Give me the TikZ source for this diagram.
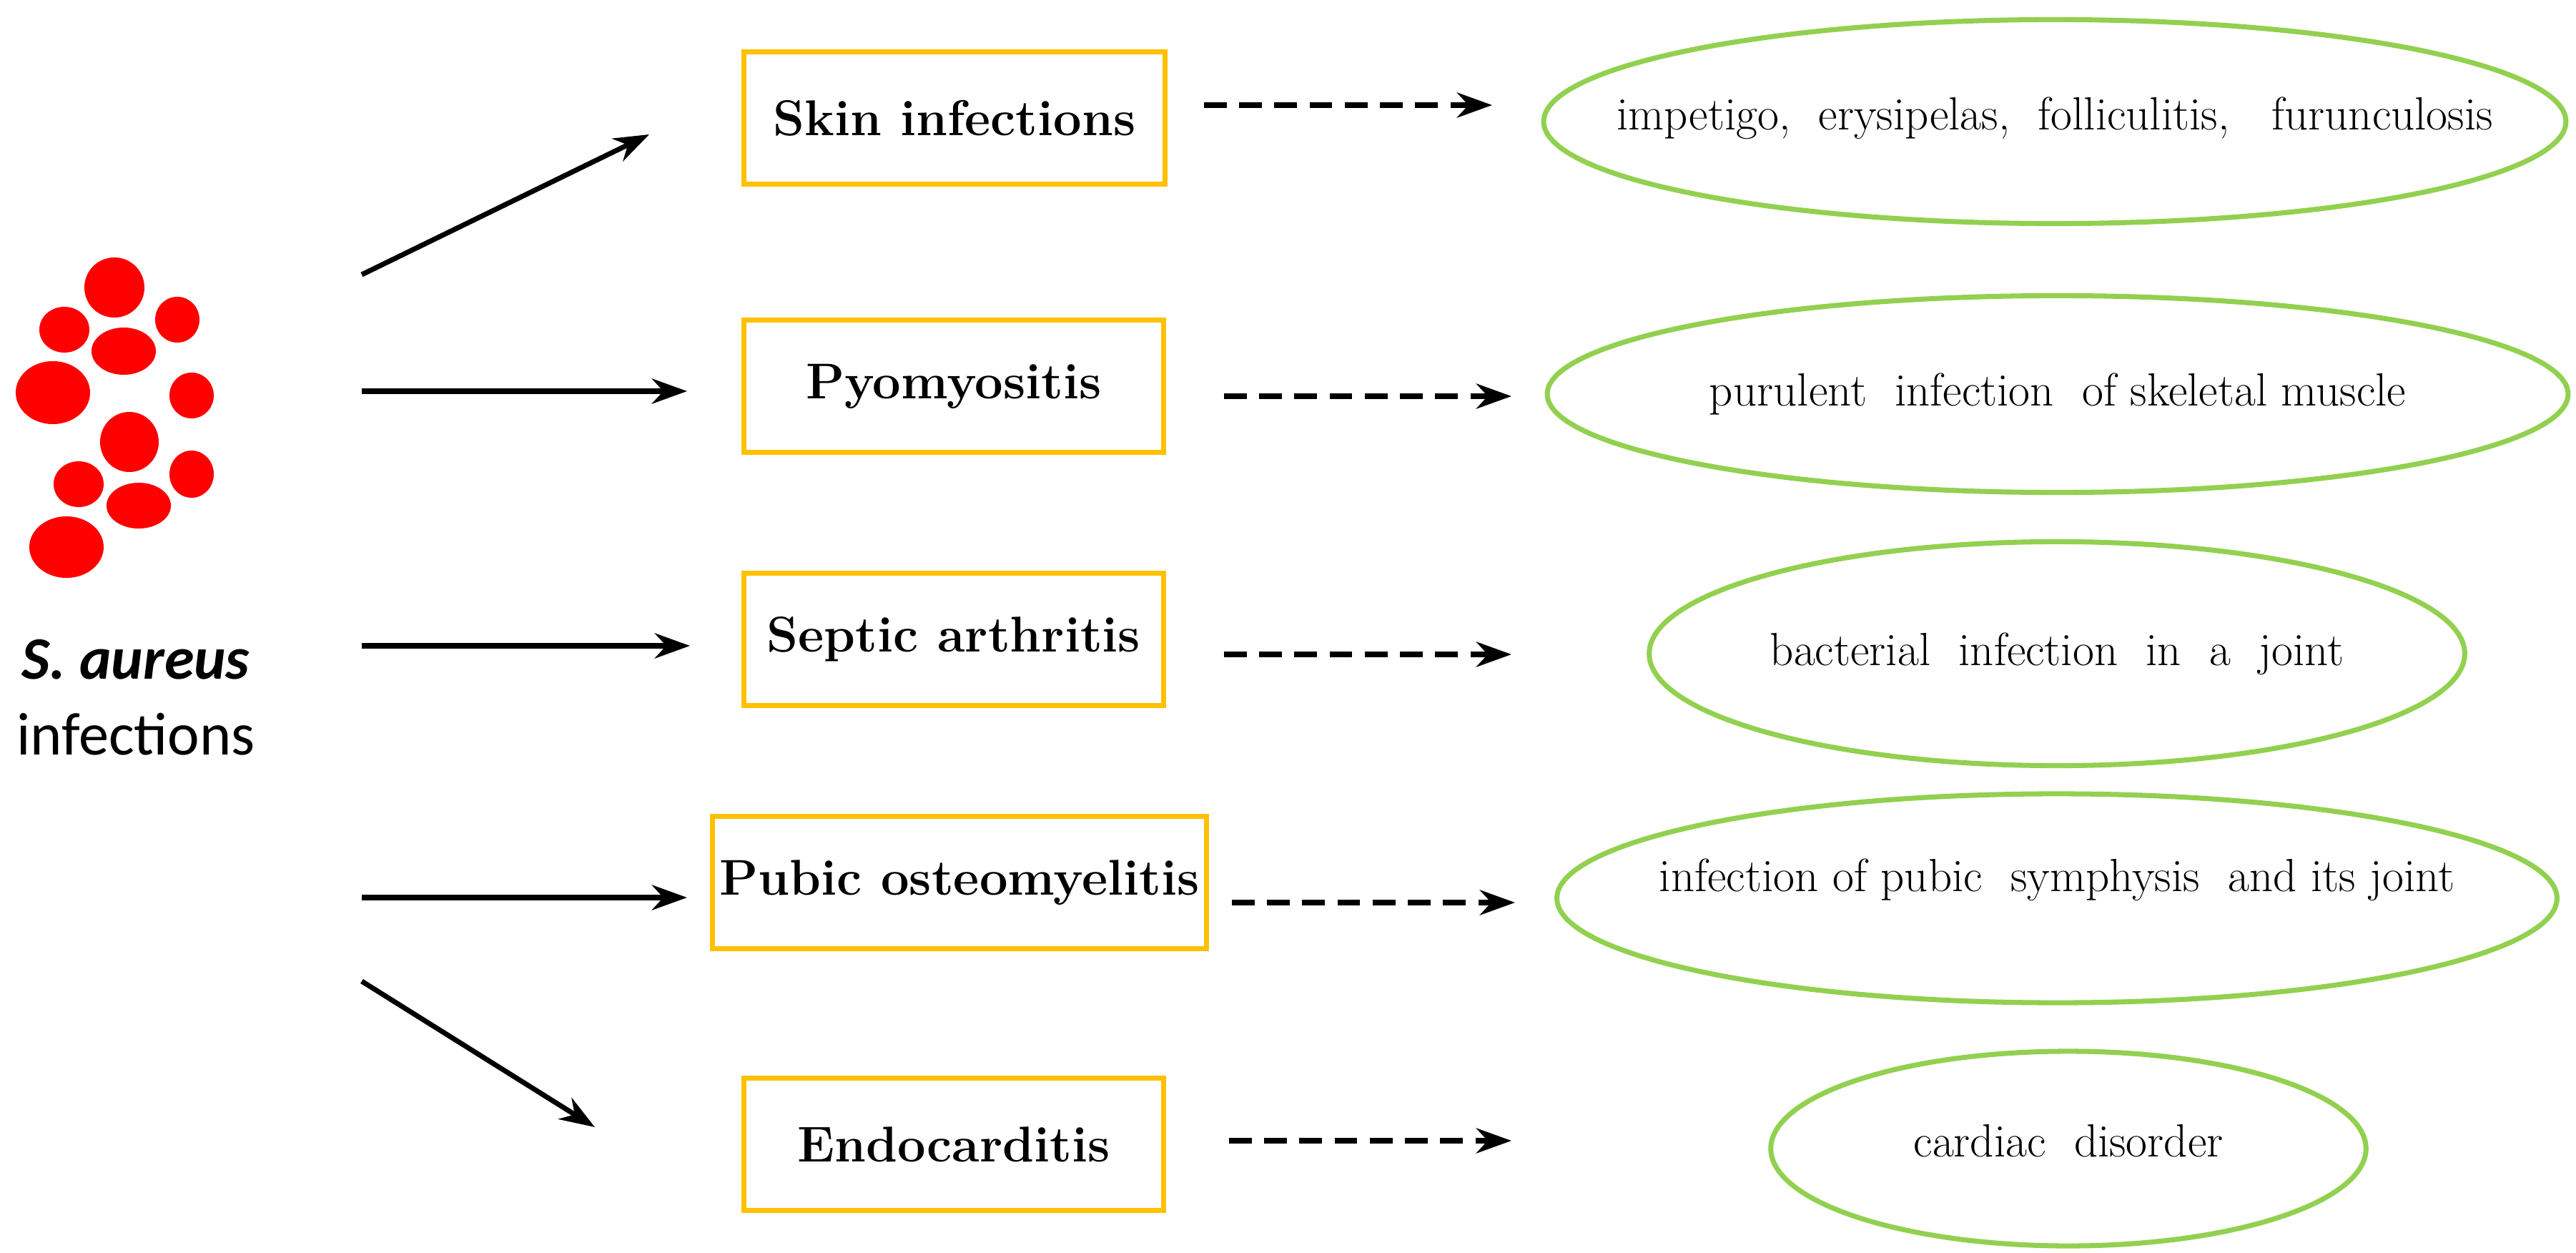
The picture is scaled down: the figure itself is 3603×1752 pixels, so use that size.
\documentclass[tikz,border=0pt]{standalone}
\usepackage{fontspec}
\newfontfamily\carl{Carlito}
\usetikzlibrary{arrows.meta}
\definecolor{boxc}{RGB}{255,192,0}
\definecolor{ellc}{RGB}{146,208,80}
\tikzset{
 x=0.01cm,y=-0.01cm,
 box/.style={draw=boxc,line width=2pt,minimum height=1.85cm,inner sep=0pt,font=\fontsize{20}{24}\selectfont\bfseries},
 ell/.style={draw=ellc,line width=2pt},
 etext/.style={inner sep=0pt,font=\fontsize{18.5}{22}\selectfont},
 sarr/.style={line width=2pt,-{Stealth[length=14pt,width=10pt]}},
 darr/.style={line width=2pt,dashed,dash pattern=on 9pt off 5pt,-{Stealth[length=14pt,width=10pt]}}
}
\begin{document}
\begin{tikzpicture}
\useasboundingbox (0,0) rectangle (3603,1752);
\foreach \x/\y/\a/\b in {160/402/42/42,90/461/35/32,248/447/31/32,173/491/45/33,74/549/52/44,268/553/31/32,181/618/41/42,110/677/35/32,268/663/31/33,194/707/45/32,93/765/52/43}
 \fill[red] (\x,\y) ellipse [x radius=\a*0.01cm, y radius=\b*0.01cm];
\node[font=\carl\fontsize{24}{30}\selectfont,align=center] (lab) at (190,975) {\textbf{\textit{S. aureus}}\\infections};
\node[box,minimum width=5.88cm] (b1) at (1335,165) {Skin infections};
\node[box,minimum width=5.86cm] (b2) at (1334,540) {Pyomyositis};
\node[box,minimum width=5.86cm] (b3) at (1334,894) {Septic arthritis};
\node[box,minimum width=6.9cm] (b4) at (1342,1234) {Pubic osteomyelitis};
\node[box,minimum width=5.86cm] (b5) at (1334,1600) {Endocarditis};
\draw[ell] (2874,170) ellipse [x radius=7.145cm, y radius=1.425cm];
\draw[ell] (2878,551) ellipse [x radius=7.135cm, y radius=1.375cm];
\draw[ell] (2877,914) ellipse [x radius=5.7cm, y radius=1.565cm];
\draw[ell] (2877,1256) ellipse [x radius=6.99cm, y radius=1.46cm];
\draw[ell] (2893,1606) ellipse [x radius=4.16cm, y radius=1.36cm];
\node[etext] (e1) at (2874,165) {impetigo, \ erysipelas, \ folliculitis, \ \ furunculosis};
\node[etext] (e2) at (2878,551) {purulent \ infection \ of skeletal muscle};
\node[etext] (e3) at (2877,914) {bacterial \ infection \ in \ a \ joint};
\node[etext] (e4) at (2877,1230) {infection of pubic \ symphysis \ and its joint};
\node[etext] (e5) at (2893,1595) {cardiac \ disorder};
\coordinate (s1a) at (506,384); \coordinate (s1b) at (908,188);
\coordinate (s2a) at (506,547); \coordinate (s2b) at (961,547);
\coordinate (s3a) at (506,903); \coordinate (s3b) at (965,903);
\coordinate (s4a) at (506,1255); \coordinate (s4b) at (961,1255);
\coordinate (s5a) at (506,1372); \coordinate (s5b) at (832,1576);
\foreach \i in {1,...,5} \draw[sarr] (s\i a) -- (s\i b);
\coordinate (d1a) at (1684,147); \coordinate (d1b) at (2087,147);
\coordinate (d2a) at (1712,554); \coordinate (d2b) at (2114,554);
\coordinate (d3a) at (1712,915); \coordinate (d3b) at (2114,915);
\coordinate (d4a) at (1723,1262); \coordinate (d4b) at (2119,1262);
\coordinate (d5a) at (1719,1595); \coordinate (d5b) at (2114,1595);
\foreach \i in {1,...,5} \draw[darr] (d\i a) -- (d\i b);
\end{tikzpicture}
\end{document}
